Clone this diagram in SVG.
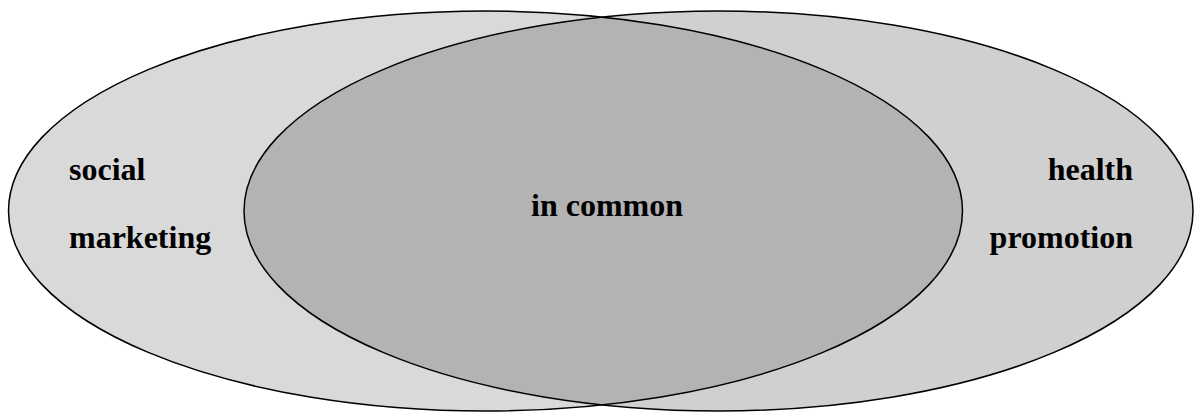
<svg xmlns="http://www.w3.org/2000/svg" width="1194" height="413" viewBox="0 0 1194 413">
  <style>
    .lbl { font-family: "Liberation Serif", "Times New Roman", serif; font-weight: bold; font-size: 32px; fill: #000; }
    .edge { fill: none; stroke: #000; stroke-width: 1.5; }
  </style>
  <defs>
    <clipPath id="clipLeft">
      <ellipse cx="485.5" cy="211" rx="477" ry="200"/>
    </clipPath>
  </defs>
  <rect width="1194" height="413" fill="#ffffff"/>
  <g id="left-set">
    <ellipse cx="485.5" cy="211" rx="477" ry="200" fill="#d9d9d9"/>
  </g>
  <g id="right-set">
    <ellipse cx="718.5" cy="211" rx="474.5" ry="200" fill="#d0d0d0"/>
  </g>
  <g id="overlap">
    <ellipse cx="718.5" cy="211" rx="474.5" ry="200" fill="#b3b3b3" clip-path="url(#clipLeft)"/>
  </g>
  <g id="connectors">
    <ellipse class="edge" cx="485.5" cy="211" rx="477" ry="200"/>
    <ellipse class="edge" cx="718.5" cy="211" rx="474.5" ry="200"/>
  </g>
  <g id="labels">
    <text class="lbl" x="69" y="180">social</text>
    <text class="lbl" x="69" y="248">marketing</text>
    <text class="lbl" x="607" y="216" text-anchor="middle">in common</text>
    <text class="lbl" x="1133" y="180" text-anchor="end">health</text>
    <text class="lbl" x="1133" y="248" text-anchor="end">promotion</text>
  </g>
</svg>
